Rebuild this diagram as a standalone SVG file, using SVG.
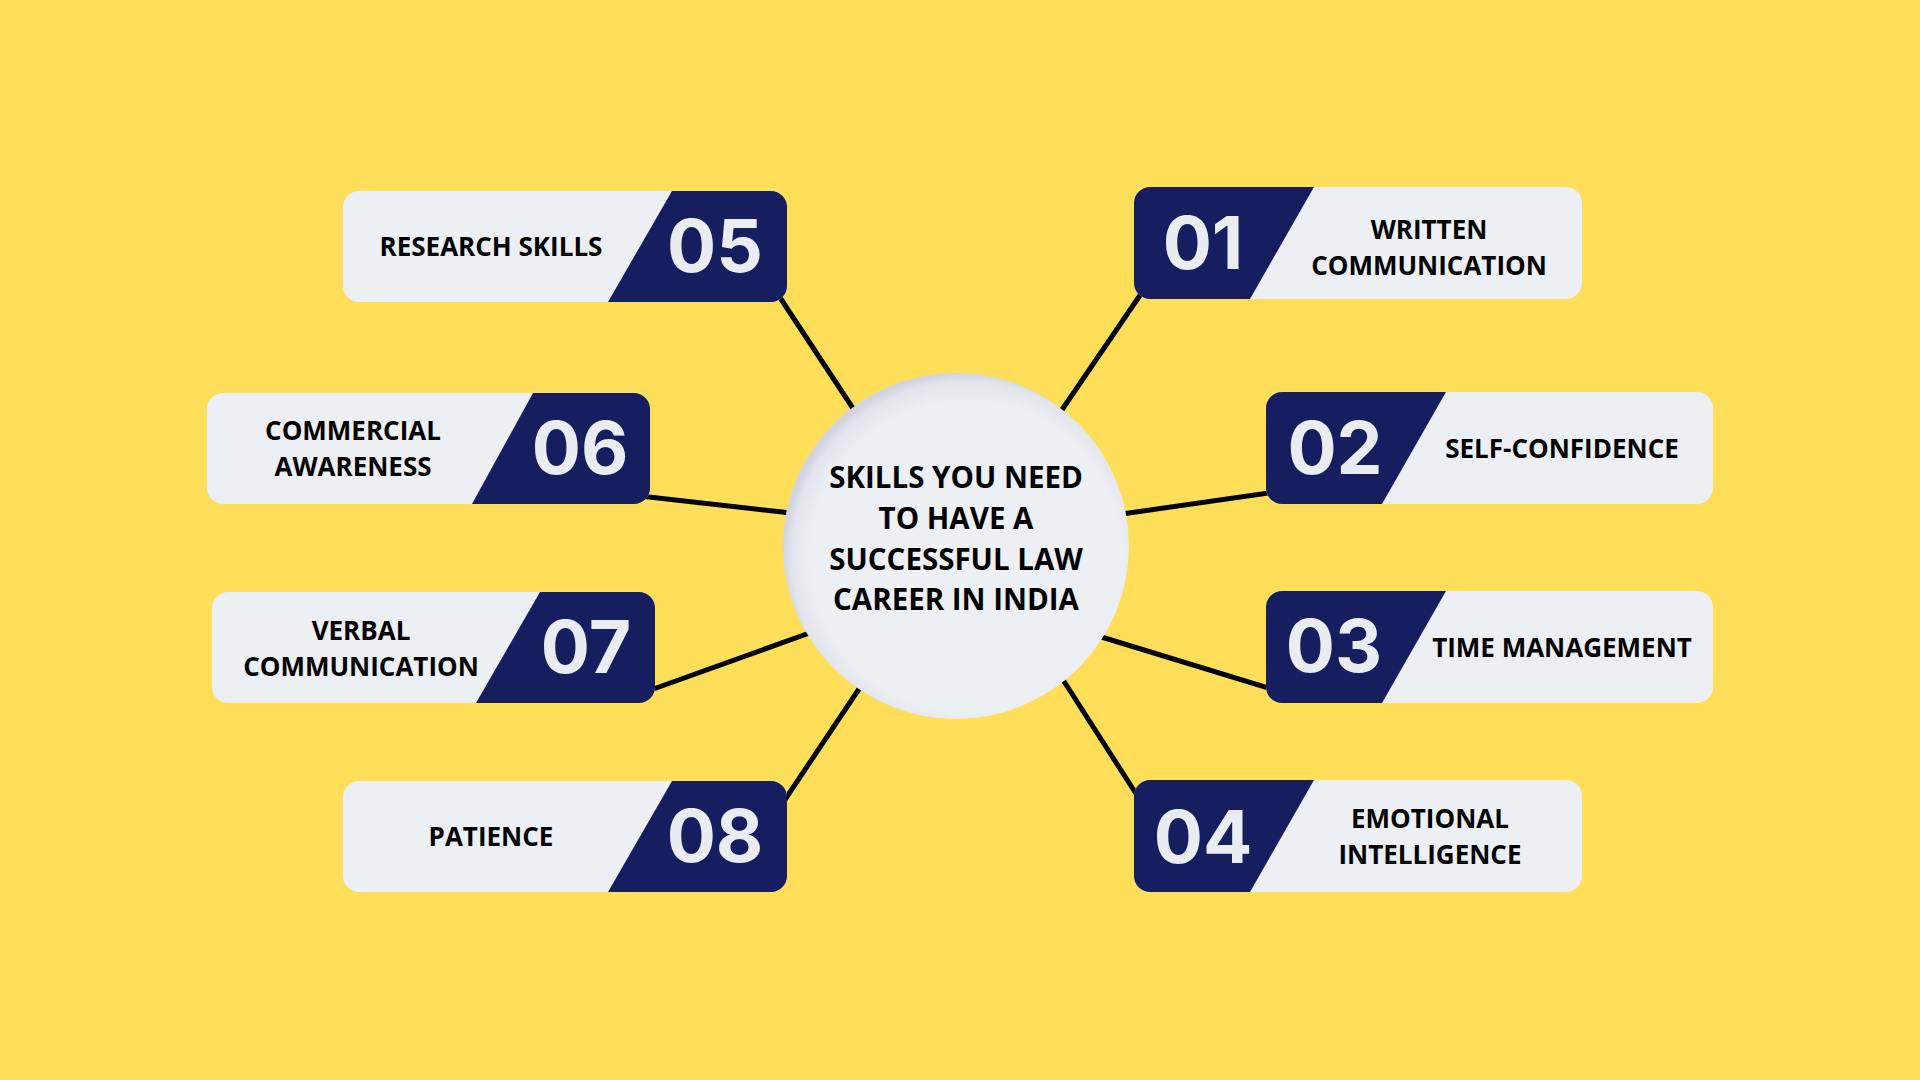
<svg xmlns="http://www.w3.org/2000/svg" width="1920" height="1080" viewBox="0 0 1920 1080">
<defs>
<radialGradient id="cg" cx="0.53" cy="0.53" r="0.53">
<stop offset="0" stop-color="#EDF0F4"/>
<stop offset="0.85" stop-color="#ECEFF3"/>
<stop offset="0.95" stop-color="#E2E5EC"/>
<stop offset="1" stop-color="#D2D5DF"/>
</radialGradient>
<style>
.box{fill:#ECEFF3}
.navy{fill:#161E5F}
.lbl{font-family:"Open Sans","Liberation Sans",sans-serif;font-weight:700;font-size:26px;fill:#000;text-anchor:middle}
.num{font-family:Inter,"Open Sans",sans-serif;font-weight:700;font-size:73px;fill:#E9EDF2;text-anchor:middle}
.ctr{font-family:"Open Sans","Liberation Sans",sans-serif;font-weight:700;font-size:29.5px;fill:#000;text-anchor:middle}
.con{stroke:#000;stroke-width:5;fill:none}
</style>
</defs>
<rect width="1920" height="1080" fill="#FFDE59"/>
<g id="connectors">
<line class="con" x1="773" y1="287" x2="862" y2="422"/>
<line class="con" x1="1147" y1="285" x2="1055" y2="420"/>
<line class="con" x1="640" y1="496" x2="800" y2="514"/>
<line class="con" x1="1115" y1="515" x2="1275" y2="492"/>
<line class="con" x1="645" y1="692" x2="815" y2="631"/>
<line class="con" x1="1095" y1="635" x2="1275" y2="690"/>
<line class="con" x1="780" y1="807" x2="865" y2="680"/>
<line class="con" x1="1058" y1="672" x2="1142" y2="803"/>
</g>
<g id="center">
<circle cx="956" cy="546" r="173" fill="url(#cg)"/>
<text class="ctr" x="956" y="488">SKILLS YOU NEED</text>
<text class="ctr" x="956" y="529">TO HAVE A</text>
<text class="ctr" x="956" y="570">SUCCESSFUL LAW</text>
<text class="ctr" x="956" y="610">CAREER IN INDIA</text>
</g>
<g id="node01">
<rect class="box" x="1134" y="187" width="448" height="112" rx="16"/>
<path class="navy" d="M1150,187 H1314 L1250,299 H1150 A16,16 0 0 1 1134,283 V203 A16,16 0 0 1 1150,187 Z"/>
<text class="num" x="1203" y="269">01</text>
<text class="lbl" x="1429" y="239">WRITTEN</text>
<text class="lbl" x="1429" y="275">COMMUNICATION</text>
</g>
<g id="node02">
<rect class="box" x="1266" y="392" width="447" height="112" rx="16"/>
<path class="navy" d="M1282,392 H1446 L1382,504 H1282 A16,16 0 0 1 1266,488 V408 A16,16 0 0 1 1282,392 Z"/>
<text class="num" x="1335" y="474">02</text>
<text class="lbl" x="1562" y="458">SELF-CONFIDENCE</text>
</g>
<g id="node03">
<rect class="box" x="1266" y="591" width="447" height="112" rx="16"/>
<path class="navy" d="M1282,591 H1446 L1382,703 H1282 A16,16 0 0 1 1266,687 V607 A16,16 0 0 1 1282,591 Z"/>
<text class="num" x="1334" y="672">03</text>
<text class="lbl" x="1562" y="657">TIME MANAGEMENT</text>
</g>
<g id="node04">
<rect class="box" x="1134" y="780" width="448" height="112" rx="16"/>
<path class="navy" d="M1150,780 H1314 L1250,892 H1150 A16,16 0 0 1 1134,876 V796 A16,16 0 0 1 1150,780 Z"/>
<text class="num" x="1203" y="863">04</text>
<text class="lbl" x="1430" y="828">EMOTIONAL</text>
<text class="lbl" x="1430" y="864">INTELLIGENCE</text>
</g>
<g id="node05">
<rect class="box" x="343" y="191" width="444" height="111" rx="16"/>
<path class="navy" d="M672,191 H771 A16,16 0 0 1 787,207 V286 A16,16 0 0 1 771,302 H608 Z"/>
<text class="num" x="715" y="272">05</text>
<text class="lbl" x="491" y="256">RESEARCH SKILLS</text>
</g>
<g id="node06">
<rect class="box" x="207" y="393" width="443" height="111" rx="16"/>
<path class="navy" d="M533,393 H634 A16,16 0 0 1 650,409 V488 A16,16 0 0 1 634,504 H472 Z"/>
<text class="num" x="580" y="474">06</text>
<text class="lbl" x="353" y="440">COMMERCIAL</text>
<text class="lbl" x="353" y="476">AWARENESS</text>
</g>
<g id="node07">
<rect class="box" x="212" y="592" width="443" height="111" rx="16"/>
<path class="navy" d="M540,592 H639 A16,16 0 0 1 655,608 V687 A16,16 0 0 1 639,703 H476 Z"/>
<text class="num" x="586" y="673">07</text>
<text class="lbl" x="361" y="640">VERBAL</text>
<text class="lbl" x="361" y="676">COMMUNICATION</text>
</g>
<g id="node08">
<rect class="box" x="343" y="781" width="444" height="111" rx="16"/>
<path class="navy" d="M672,781 H771 A16,16 0 0 1 787,797 V876 A16,16 0 0 1 771,892 H608 Z"/>
<text class="num" x="715" y="862">08</text>
<text class="lbl" x="491" y="846">PATIENCE</text>
</g>
</svg>
